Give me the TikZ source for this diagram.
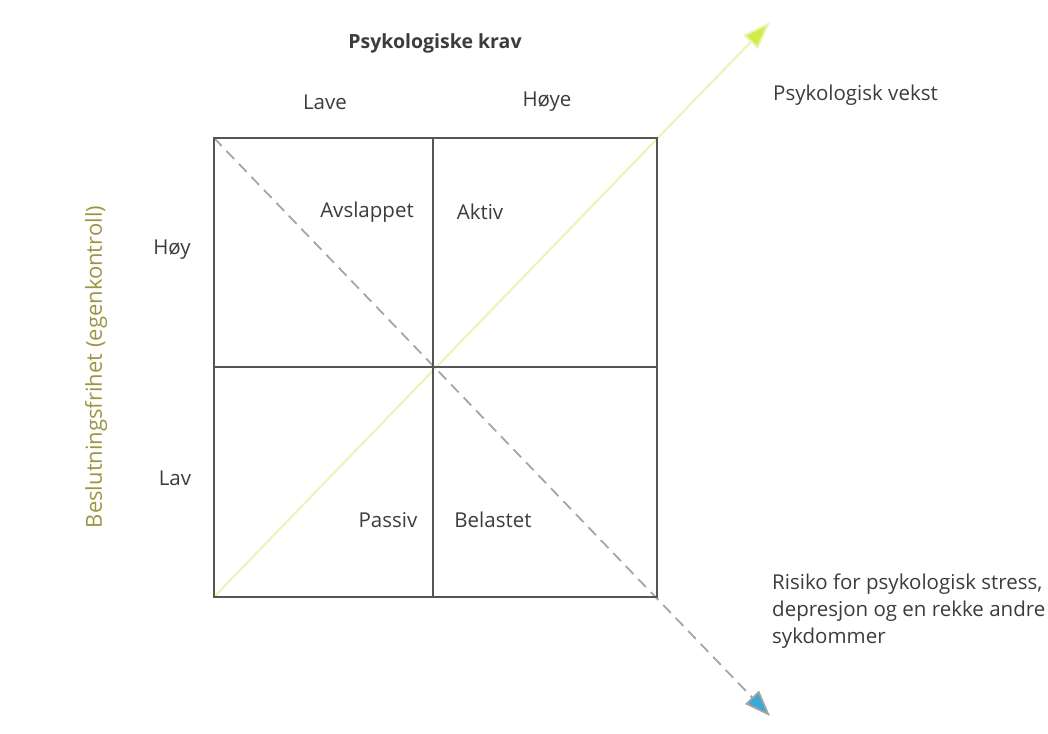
\documentclass[tikz,border=0pt]{standalone}
\usepackage{fontspec}
\setmainfont{Open Sans}
\usetikzlibrary{arrows.meta, positioning, calc}
\definecolor{grid}{HTML}{555555}
\definecolor{ink}{HTML}{3C3C3C}
\definecolor{vekst}{HTML}{E9F5B4}
\definecolor{veksttip}{HTML}{D0EC48}
\definecolor{risk}{HTML}{A5A5A5}
\definecolor{risktip}{HTML}{3AA9D6}
\definecolor{axislbl}{HTML}{9C9642}

\begin{document}
\begin{tikzpicture}[
  x=1pt, y=-1pt,
  quad/.style={draw=grid, line width=1.8pt},
  lbl/.style={text=ink, font=\fontsize{20.5}{27}\selectfont, inner sep=0pt},
  growth/.style={-{Triangle[length=28pt, width=20pt, fill=veksttip]}, vekst, line width=2pt},
  strain/.style={-{Triangle[length=26pt, width=19pt, fill=risktip]}, risk, line width=1.8pt,
                 dash pattern=on 11pt off 7pt}
]
  \useasboundingbox (0,0) rectangle (1048,733);

  \coordinate (tl) at (214,138);
  \coordinate (br) at (657,597);
  \coordinate (bl) at (214,597);
  \coordinate (mid) at (433,367);
  \coordinate (vtip) at (770,22);
  \coordinate (rtip) at (770,716);

  \draw[growth] (bl) -- (vtip);
  \draw[strain] (tl) -- (rtip);

  \draw[quad] (tl) rectangle (br);
  \draw[quad] (mid |- tl) -- (mid |- br);
  \draw[quad] (tl |- mid) -- (br |- mid);

  \node[lbl, font=\fontsize{19.5}{26}\selectfont\bfseries] (krav) at (435,43) {Psykologiske krav};
  \node[lbl] (lave) at (325,102) {Lave};
  \node[lbl] (hoye) at (547,102) {Høye};

  \node[lbl, text=axislbl, rotate=90, font=\fontsize{22}{27}\selectfont] (frihet) at (96,367)
    {Beslutningsfrihet (egenkontroll)};
  \node[lbl] (hoy) at (172,250) {Høy};
  \node[lbl] (lav) at (175,478) {Lav};

  \node[lbl] (avsl) at (367,212) {Avslappet};
  \node[lbl] (aktiv) at (480,212) {Aktiv};
  \node[lbl] (passiv) at (388,520) {Passiv};
  \node[lbl] (belast) at (493,520) {Belastet};

  \node[lbl, anchor=west] (vekstlbl) at (773,95) {Psykologisk vekst};
  \node[lbl, anchor=north west, align=left] (risklbl) at (772,574)
    {Risiko for psykologisk stress,\\depresjon og en rekke andre\\sykdommer};
\end{tikzpicture}
\end{document}
